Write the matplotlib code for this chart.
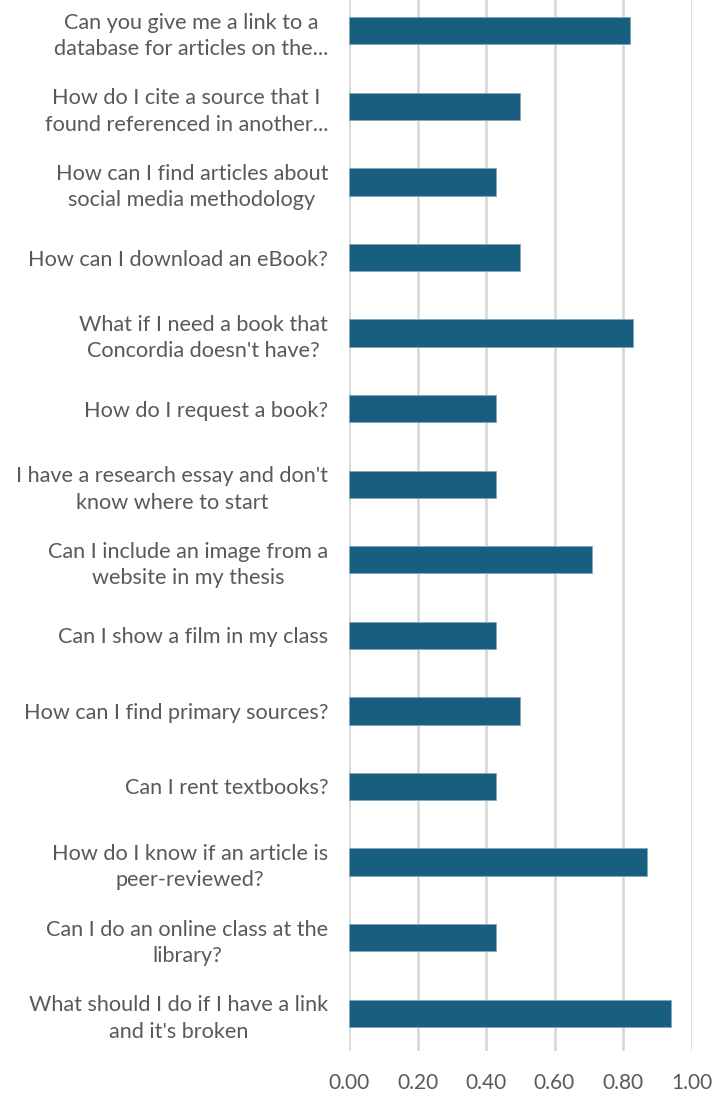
import matplotlib.pyplot as plt
import numpy as np

# questions, top to bottom as shown
questions = [
    "Can you give me a link to a\ndatabase for articles on the...",
    "How do I cite a source that I\nfound referenced in another...",
    "How can I find articles about\nsocial media methodology",
    "How can I download an eBook?",
    "What if I need a book that\nConcordia doesn't have?",
    "How do I request a book?",
    "I have a research essay and don't\nknow where to start",
    "Can I include an image from a\nwebsite in my thesis",
    "Can I show a film in my class",
    "How can I find primary sources?",
    "Can I rent textbooks?",
    "How do I know if an article is\npeer-reviewed?",
    "Can I do an online class at the\nlibrary?",
    "What should I do if I have a link\nand it's broken",
]
scores = [0.82, 0.50, 0.43, 0.50, 0.83, 0.43, 0.43, 0.71, 0.43, 0.50, 0.43, 0.87, 0.43, 0.94]
xticks = [0.0, 0.2, 0.4, 0.6, 0.8, 1.0]

bar_color = "#175E7F"
text_color = "#595959"
grid_color = "#D9D9D9"

plt.rcParams['font.family'] = ['Lato', 'DejaVu Sans']

fig = plt.figure(figsize=(7.14, 10.95), dpi=100)
ax = fig.add_axes([349 / 714, 1 - 1051 / 1095, (691.5 - 349) / 714, 1058 / 1095])

y = np.arange(len(questions))
ax.barh(y, scores, height=0.36, color=bar_color, edgecolor="#7FA9C2", linewidth=0.6, zorder=3)

ax.set_xlim(0, 1.0)
ax.set_ylim(len(questions) - 0.5, -0.5)
ax.set_xticks(xticks)
ax.set_xticklabels([f"{v:.2f}" for v in xticks], fontsize=15, color=text_color)
ax.set_yticks(y)
ax.set_yticklabels(questions, fontsize=15.6, color=text_color, ha="right",
                   multialignment="center", linespacing=1.4)
ax.tick_params(axis="both", length=0)
ax.tick_params(axis="y", pad=15)
ax.tick_params(axis="x", pad=16)

ax.grid(axis="x", color=grid_color, linewidth=2, zorder=0)
for s in ax.spines.values():
    s.set_visible(False)

fig.savefig("out.png", dpi=100)
